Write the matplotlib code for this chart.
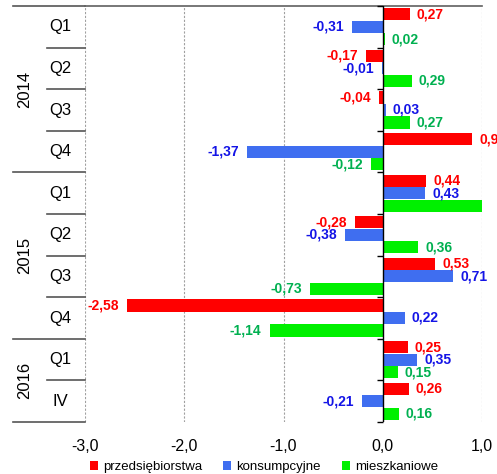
import matplotlib.pyplot as plt
from matplotlib.patches import Patch
import matplotlib.transforms as mtransforms

plt.rcParams['font.family'] = ['Liberation Sans', 'DejaVu Sans']

quarters = ["Q1", "Q2", "Q3", "Q4", "Q1", "Q2", "Q3", "Q4", "Q1", "IV"]
years = ["2014", "2015", "2016"]
year_rows = [(0, 4), (4, 8), (8, 10)]
series_names = ["przedsiębiorstwa", "konsumpcyjne", "mieszkaniowe"]
przedsiebiorstwa = [0.27, -0.17, -0.04, 0.9, 0.44, -0.28, 0.53, -2.58, 0.25, 0.26]
konsumpcyjne = [-0.31, -0.01, 0.03, -1.37, 0.43, -0.38, 0.71, 0.22, 0.35, -0.21]
mieszkaniowe = [0.02, 0.29, 0.27, -0.12, 1.05, 0.36, -0.73, -1.14, 0.15, 0.16]
x_ticks = [-3, -2, -1, 0, 1]
x_ticklabels = ["-3,0", "-2,0", "-1,0", "0,0", "1,0"]

bar_colors = ["#FF0000", "#3F6EF0", "#00F000"]
text_colors = ["#FF0000", "#1414E6", "#00B050"]

fig = plt.figure(figsize=(4.97, 4.74), dpi=100)
ax = fig.add_axes([85 / 497, 52 / 474, 397 / 497, 416 / 474])
ax.set_xlim(-3, 1)
ax.set_ylim(len(quarters), 0)

offsets = [-0.3, 0.0, 0.3]
trans_off = {1: mtransforms.offset_copy(ax.transData, fig=fig, x=5.0, y=0, units='points'),
             -1: mtransforms.offset_copy(ax.transData, fig=fig, x=-5.8, y=0, units='points')}
for k, vals in enumerate([przedsiebiorstwa, konsumpcyjne, mieszkaniowe]):
    ys = [i + 0.5 + offsets[k] for i in range(len(vals))]
    ax.barh(ys, vals, height=0.29, color=bar_colors[k], zorder=3)
    for y, v in zip(ys, vals):
        if v > 1:
            continue  # label falls outside the chart
        s = 1 if v >= 0 else -1
        lbl = str(v).replace(".", ",")
        ax.text(v, y, lbl, transform=trans_off[s], ha='left' if s > 0 else 'right',
                va='center', color=text_colors[k], fontsize=10, fontweight='bold', zorder=4)

# grid and axes
for x in [-3, -2, -1, 1]:
    ax.axvline(x, color='#A0A0A0', lw=0.8, ls=(0, (2, 1.5)), zorder=1)
ax.axvline(0, color='black', lw=1, zorder=5)
ax.plot([0] * (len(quarters) + 1), range(len(quarters) + 1), ls='none', marker=0,
        markersize=4, color='black', mew=1, zorder=5, clip_on=False)

for side in ['left', 'right', 'bottom']:
    ax.spines[side].set_visible(False)
ax.spines['top'].set_color('#606060')
ax.spines['top'].set_linewidth(1.2)

ax.set_xticks(x_ticks)
ax.set_xticklabels(x_ticklabels, fontsize=11.5)
ax.tick_params(axis='x', length=0, pad=12)
ax.set_yticks([])

# two-level category labels
tb = mtransforms.blended_transform_factory(ax.transAxes, ax.transData)
for i, q in enumerate(quarters):
    ax.text(-0.063, i + 0.5, q, transform=tb, ha='center', va='center', fontsize=12)
year_edges = {0, 4, 8, 10}
for b in range(len(quarters) + 1):
    x0 = -0.181 if b in year_edges else -0.0957
    ax.plot([x0, 0], [b, b], transform=tb, color='#555555', lw=1.2, clip_on=False)
for yr, (a, b) in zip(years, year_rows):
    ax.text(-0.151, (a + b) / 2, yr, transform=tb, ha='center', va='center',
            rotation=90, fontsize=12)

handles = [Patch(facecolor=c, edgecolor='none') for c in bar_colors]
fig.legend(handles, series_names, loc='center', bbox_to_anchor=(264 / 497, 7 / 474),
           ncol=3, frameon=False, fontsize=9.5, handlelength=0.6, handleheight=0.6,
           handletextpad=0.4, columnspacing=1.6, borderaxespad=0)

fig.savefig("out.png", dpi=100)
